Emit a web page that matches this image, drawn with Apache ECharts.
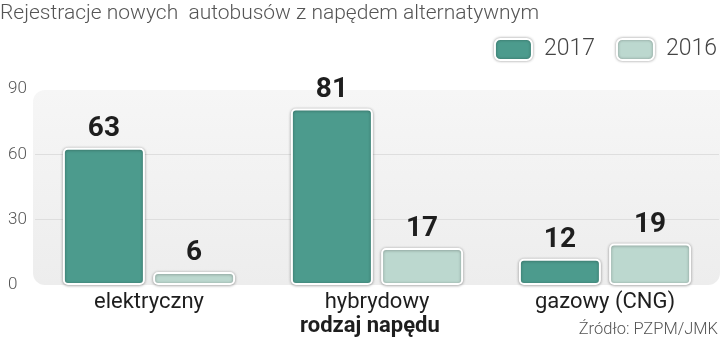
<!DOCTYPE html>
<html>
<head>
<meta charset="utf-8">
<script src="https://cdn.jsdelivr.net/npm/echarts@6/dist/echarts.min.js"></script>
<style>
html,body{margin:0;padding:0;background:#fff;}
#c{width:720px;height:342px;}
</style>
</head>
<body>
<div id="c"></div>
<script>
const categories = ['elektryczny', 'hybrydowy', 'gazowy (CNG)'];
const values2017 = [63, 81, 12];
const values2016 = [6, 17, 19];
const yTicks = [0, 30, 60, 90];

const FONT = 'Roboto, sans-serif';
const chart = echarts.init(document.getElementById('c'), null, {renderer: 'canvas'});

const barStyle = (color) => ({
  color: color,
  borderColor: '#ffffff',
  borderWidth: 2,
  borderRadius: 4,
  shadowBlur: 3,
  shadowColor: 'rgba(0,0,0,0.35)',
  shadowOffsetY: 0.5
});
const labelStyle = {
  show: true,
  position: 'top',
  distance: 5,
  fontFamily: FONT,
  fontWeight: 'bold',
  fontSize: 28,
  color: '#1e1e1e'
};

chart.setOption({
  animation: false,
  backgroundColor: '#ffffff',
  title: [
    {text: 'Rejestracje nowych  autobusów z napędem alternatywnym', left: 0, top: 0, padding: [3, 0, 0, 0],
     textStyle: {fontFamily: FONT, fontWeight: 300, fontSize: 21, color: '#555555'}},
    {text: 'rodzaj napędu', left: 300, top: 315, padding: 0,
     textStyle: {fontFamily: FONT, fontWeight: 'bold', fontSize: 22, color: '#1e1e1e'}},
    {text: 'Źródło: PZPM/JMK', right: 2, top: 321, padding: 0,
     textStyle: {fontFamily: FONT, fontWeight: 300, fontSize: 16.5, color: '#555555'}}
  ],
  legend: {
    right: 3, top: 38, padding: 0,
    itemWidth: 37, itemHeight: 21, itemGap: 21,
    textStyle: {fontFamily: FONT, fontWeight: 300, fontSize: 23, color: '#444444', padding: [0, 0, 0, 7]},
    itemStyle: {borderColor: '#ffffff', borderWidth: 2, shadowBlur: 3, shadowColor: 'rgba(0,0,0,0.35)'},
    data: ['2017', '2016']
  },
  graphic: [{
    type: 'rect', z: -10, silent: true,
    shape: {x: 33, y: 90, width: 687, height: 195, r: [12, 0, 12, 12]},
    style: {
      fill: new echarts.graphic.LinearGradient(0, 0, 0, 1, [
        {offset: 0, color: '#f6f6f6'},
        {offset: 1, color: '#ededed'}
      ])
    }
  }],
  grid: {left: 35, right: 1, top: 89, bottom: 57, containLabel: false},
  xAxis: {
    type: 'category',
    data: categories,
    axisLine: {show: false},
    axisTick: {show: false},
    axisLabel: {fontFamily: FONT, fontSize: 22, color: '#1e1e1e', margin: 6}
  },
  yAxis: {
    type: 'value',
    min: yTicks[0], max: yTicks[yTicks.length - 1], interval: 30,
    axisLine: {show: false},
    axisTick: {show: false},
    axisLabel: {fontFamily: FONT, fontWeight: 300, fontSize: 17, color: '#555555', align: 'left', margin: 27},
    splitLine: {show: true, showMinLine: false, showMaxLine: false, lineStyle: {color: '#dedede', width: 1}}
  },
  series: [
    {name: '2017', type: 'bar', data: values2017, barWidth: 82, barGap: '10%',
     itemStyle: barStyle('#4c9b8d'), label: labelStyle},
    {name: '2016', type: 'bar', data: values2016, barWidth: 82, barGap: '10%',
     itemStyle: barStyle('#bcd8cf'), label: labelStyle}
  ]
});
</script>
</body>
</html>
